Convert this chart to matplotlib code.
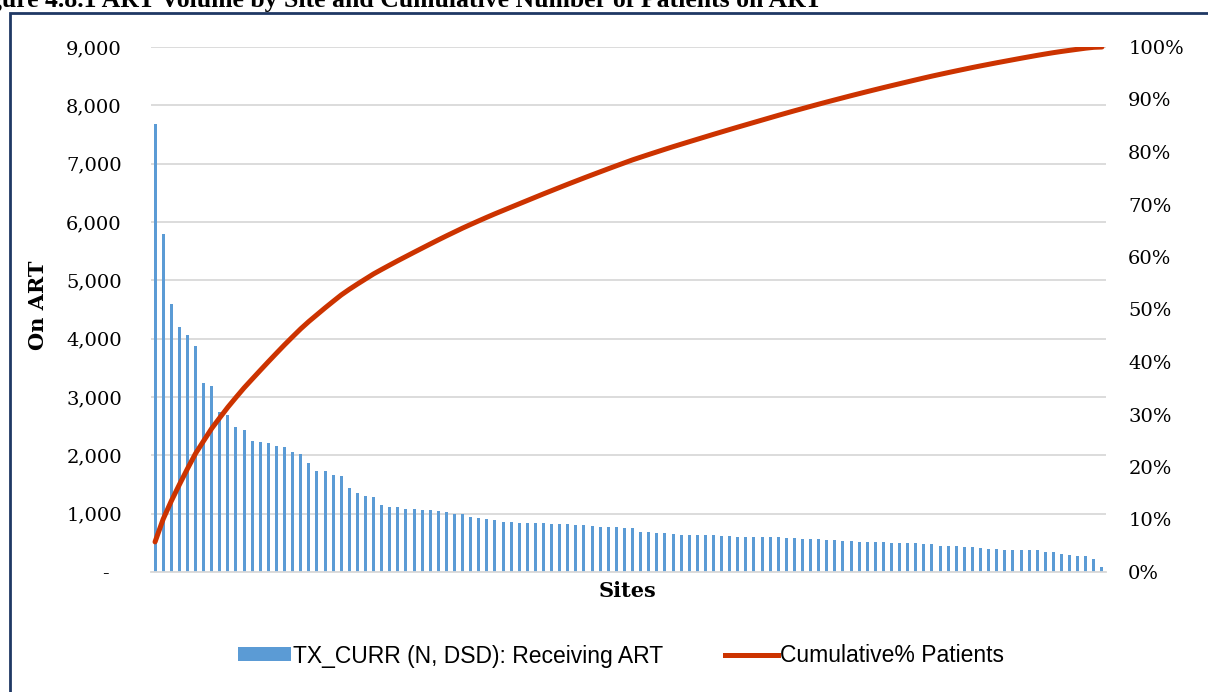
import matplotlib
matplotlib.use("Agg")
import matplotlib.pyplot as plt
from matplotlib.patches import Rectangle, Patch
from matplotlib.lines import Line2D
from matplotlib.ticker import FuncFormatter, PercentFormatter
import numpy as np

# ---------------- data ----------------
title = "Figure 4.8.1 ART Volume by Site and Cumulative Number of Patients on ART"
y_label = "On ART"
x_label = "Sites"
bar_label = "TX_CURR (N, DSD): Receiving ART"
line_label = "Cumulative% Patients"

tx_curr = [
    7680, 5795, 4600, 4200, 4057, 3880, 3235, 3183, 2743, 2691,
    2486, 2429, 2246, 2229, 2211, 2166, 2143, 2057, 2023, 1863,
    1731, 1731, 1669, 1640, 1434, 1349, 1297, 1291, 1143, 1120,
    1109, 1074, 1074, 1057, 1057, 1046, 1023, 994, 994, 937,
    920, 909, 886, 851, 851, 846, 846, 846, 846, 823,
    823, 817, 800, 800, 783, 777, 777, 766, 754, 754,
    686, 680, 669, 669, 657, 634, 634, 629, 629, 629,
    617, 617, 606, 600, 600, 600, 600, 600, 583, 583,
    566, 566, 560, 549, 543, 537, 537, 520, 520, 514,
    509, 497, 491, 491, 491, 486, 474, 451, 446, 440,
    429, 429, 411, 400, 400, 383, 383, 383, 371, 371,
    349, 337, 309, 286, 280, 274, 217, 80,
]
left_ticks = [0, 1000, 2000, 3000, 4000, 5000, 6000, 7000, 8000, 9000]
right_ticks = [0, 0.1, 0.2, 0.3, 0.4, 0.5, 0.6, 0.7, 0.8, 0.9, 1.0]

values = np.array(tx_curr, dtype=float)
cumulative = np.cumsum(values) / values.sum()
sites = np.arange(len(values))

# ---------------- style ----------------
W, H = 1208, 692
BAR_C = "#5B9BD5"
LINE_C = "#CC3300"
GRID_C = "#D9D9D9"
SERIF = ["DejaVu Serif"]
SANS = ["Liberation Sans", "DejaVu Sans"]

fig = plt.figure(figsize=(W / 100, H / 100), dpi=100)
fig.patch.set_facecolor("white")

ax = fig.add_axes([151 / W, (H - 572) / H, (1106 - 151) / W, (572 - 47) / H])
ax.bar(sites, values, width=0.37, color=BAR_C, zorder=2)
ax.set_xlim(-0.5, len(values) - 0.5)
ax.set_ylim(0, 9000)
ax.set_yticks(left_ticks)
ax.yaxis.set_major_formatter(FuncFormatter(lambda v, p: "-  " if v == 0 else f"{v:,.0f}"))
ax.set_xticks([])
ax.grid(axis="y", color=GRID_C, lw=1.3, zorder=0)
ax.set_axisbelow(True)
for s in ["top", "right", "left"]:
    ax.spines[s].set_visible(False)
ax.spines["bottom"].set_color(GRID_C)
ax.spines["bottom"].set_linewidth(1.3)
ax.tick_params(axis="y", length=0, pad=21, labelsize=14)
for t in ax.get_yticklabels():
    t.set_family(SERIF)

ax2 = ax.twinx()
ax2.plot(sites, cumulative, color=LINE_C, lw=3.6, solid_capstyle="round", zorder=3)
ax2.set_ylim(0, 1)
ax2.set_yticks(right_ticks)
ax2.yaxis.set_major_formatter(PercentFormatter(1.0, decimals=0))
for s in ["top", "right", "left", "bottom"]:
    ax2.spines[s].set_visible(False)
ax2.tick_params(axis="y", length=0, pad=16, labelsize=14)
for t in ax2.get_yticklabels():
    t.set_family(SERIF)

fig.text(38 / W, 1 - 305 / H, y_label, rotation=90, ha="center", va="center",
         fontsize=15, fontweight="bold", family=SERIF)
fig.text(628 / W, 1 - 591 / H, x_label, ha="center", va="center",
         fontsize=15, fontweight="bold", family=SERIF)

# cropped title at very top (as in the reference)
fig.text(822 / W, 1 - 7 / H, title, ha="right", va="baseline",
         fontsize=18.5, fontweight="bold", family=["Liberation Serif"])

# legend
handles = [Patch(facecolor=BAR_C, edgecolor="none"),
           Line2D([0], [0], color=LINE_C, lw=3.6)]
fig.legend(handles, [bar_label, line_label], loc="center",
           bbox_to_anchor=(621 / W, 1 - 656 / H), ncol=2, frameon=False,
           prop={"family": SANS, "size": 16.5}, handlelength=2.3,
           handleheight=0.55, handletextpad=0.1, columnspacing=2.7)

# navy frame
fig.patches.append(Rectangle((10 / W, -0.1), 1.2, 1.1 - 12.5 / H,
                             transform=fig.transFigure, fill=False,
                             edgecolor="#1F3864", lw=2, zorder=10))

fig.savefig("out.png", dpi=100)
